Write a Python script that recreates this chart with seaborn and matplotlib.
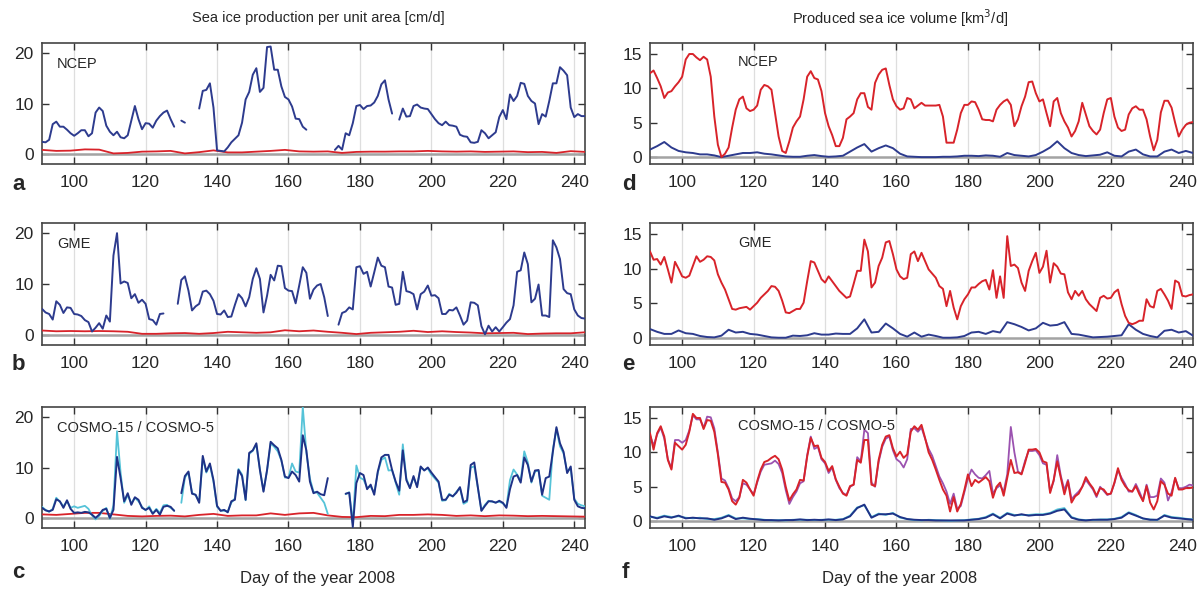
import numpy as np
import pandas as pd
import matplotlib
matplotlib.use('Agg')
import matplotlib.pyplot as plt
import seaborn as sns

nan = np.nan

# day axes: daily, every 2nd day, every 4th day
days = np.arange(91, 244)
days2 = np.arange(91, 244, 2)
days4 = np.arange(91, 244, 4)

# ---- sea ice production per unit area [cm/d] (left column) ----
ncep_rate = [2.4, 2.3, 2.8, 5.9, 6.4, 5.4, 5.4, 4.8, 4.1, 3.6,
             4.1, 4.7, 4.7, 3.5, 4.1, 8.2, 9.2, 8.5, 5.6, 4.4,
             3.7, 4.4, 3.3, 3.1, 3.7, 6.6, 9.5, 6.9, 4.9, 6.1,
             6.0, 5.2, 6.6, 7.5, 8.2, 8.6, 6.9, 5.4, nan, 6.6,
             6.2, nan, nan, nan, 9.0, 12.5, 12.7, 14.0, 9.2, 0.7,
             0.6, 0.5, 1.3, 2.3, 3.0, 3.7, 6.2, 10.8, 12.3, 15.7,
             17.0, 12.3, 13.1, 21.2, 21.3, 16.7, 16.7, 13.4, 11.3, 10.8,
             9.4, 7.0, 6.9, 5.4, 4.8, nan, nan, nan, nan, nan,
             nan, nan, 0.8, 1.6, 0.85, 4.1, 3.7, 6.1, 9.5, 9.7,
             8.9, 9.5, 9.6, 10.2, 11.5, 13.8, 14.6, 10.8, 8.0, nan,
             6.8, 9.0, 7.4, 7.5, 9.5, 9.8, 9.2, 9.0, 8.9, 7.9,
             6.9, 6.1, 5.7, 6.4, 5.7, 5.6, 5.4, 3.8, 3.5, 3.4,
             2.3, 2.2, 2.4, 4.7, 4.1, 3.1, 3.7, 4.3, 7.3, 8.7,
             6.9, 11.8, 10.5, 11.5, 14.1, 13.9, 11.5, 10.5, 10.0, 5.9,
             7.9, 7.4, 10.5, 14.0, 14.0, 17.2, 16.5, 15.6, 9.2, 7.3,
             7.9, 7.5, 7.5]
ncep_rate_red = [0.8, 0.6, 0.65, 0.9, 0.85, 0.1, 0.2, 0.45, 0.5, 0.6,
                 0.1, 0.35, 0.7, 0.3, 0.3, 0.45, 0.6, 0.8, 0.5, 0.45,
                 0.5, 0.2, 0.4, 0.45, 0.45, 0.5, 0.5, 0.6, 0.5, 0.45,
                 0.5, 0.4, 0.45, 0.5, 0.35, 0.4, 0.2, 0.55, 0.4]

gme_rate = [5.1, 4.4, 4.1, 3.0, 6.6, 5.9, 4.3, 5.4, 5.3, 4.1,
            4.0, 3.7, 2.9, 2.5, 0.65, 1.4, 2.3, 1.2, 3.8, 2.6,
            15.6, 20.0, 10.1, 10.5, 10.2, 7.2, 8.0, 6.3, 6.9, 6.1,
            3.1, 2.9, 2.0, 4.1, 4.2, nan, nan, nan, 6.1, 10.8,
            11.5, 8.7, 4.8, 5.6, 6.1, 8.5, 8.7, 8.0, 6.7, 4.1,
            4.0, 4.8, 3.5, 3.6, 5.9, 8.0, 7.2, 5.6, 7.4, 11.0,
            13.1, 11.0, 4.4, 7.7, 11.8, 10.7, 13.6, 13.5, 9.2, 8.7,
            8.6, 6.2, 9.7, 13.3, 12.2, 7.1, 8.9, 9.7, 10.0, 7.4,
            3.7, nan, nan, 2.0, 4.3, 4.6, 5.4, 5.0, 13.3, 13.5,
            12.0, 12.4, 9.5, 12.3, 15.2, 13.6, 13.3, 9.5, 9.3, 5.9,
            6.1, 12.4, 8.6, 8.4, 8.0, 5.0, 8.0, 8.5, 9.7, 7.7,
            7.8, 7.2, 4.1, 4.1, 4.9, 4.8, 5.4, 3.8, 2.0, 2.8,
            6.4, 6.3, 5.8, 1.7, 0.1, 1.8, 0.65, 1.5, 0.65, 1.5,
            2.4, 3.1, 5.8, 12.4, 12.7, 16.2, 13.9, 6.4, 7.1, 9.9,
            3.8, 3.8, 3.5, 18.6, 17.2, 14.9, 9.0, 8.2, 8.0, 5.0,
            3.8, 3.3, 3.2]
gme_rate_red = [0.85, 0.7, 0.75, 0.7, 0.75, 0.7, 0.6, 0.2, 0.2, 0.3,
                0.35, 0.2, 0.35, 0.6, 0.5, 0.4, 0.5, 0.9, 0.7, 0.85,
                0.6, 0.4, 0.15, 0.4, 0.5, 0.6, 0.8, 0.55, 0.7, 0.55,
                0.45, 0.3, 0.35, 0.4, 0.15, 0.25, 0.3, 0.3, 0.5]

cosmo5_rate = [2.0, 1.5, 1.3, 1.6, 3.7, 3.3, 2.0, 3.5, 1.8, 1.0,
               1.1, 1.0, 1.2, 1.1, 0.65, 0.0, 0.65, 1.6, 1.8, 0.0,
               1.6, 12.1, 7.9, 3.3, 4.9, 2.6, 4.1, 3.6, 2.0, 1.6,
               2.0, 0.8, 1.6, 0.65, 2.2, 2.4, 2.2, 1.4, nan, 4.9,
               8.3, 9.2, 4.8, 4.6, 3.0, 12.3, 9.2, 10.8, 7.5, 2.4,
               1.4, 1.6, 1.1, 3.3, 3.6, 9.5, 8.3, 3.6, 12.9, 13.4,
               14.8, 9.5, 5.2, 9.5, 15.1, 14.4, 13.8, 11.5, 8.2, 7.9,
               9.2, 8.5, 7.2, 16.4, 13.4, 7.2, 4.9, 5.2, 4.7, 4.5,
               7.9, nan, nan, nan, nan, 4.8, 5.0, -1.8, 6.9, 8.9,
               8.5, 5.7, 6.6, 4.6, 9.2, 12.0, 12.5, 12.5, 9.5, 7.2,
               5.4, 13.4, 7.5, 5.9, 8.3, 6.1, 10.2, 9.4, 10.0, 9.0,
               8.1, 7.2, 3.6, 3.6, 4.6, 4.3, 5.0, 6.1, 3.1, 3.5,
               10.5, 11.0, 6.1, 1.4, 2.4, 3.3, 3.3, 3.0, 3.4, 3.0,
               2.0, 5.7, 8.2, 8.5, 7.0, 12.0, 10.5, 7.2, 9.4, 9.5,
               4.6, 7.9, 8.2, 13.1, 18.0, 14.8, 13.1, 8.9, 10.2, 3.6,
               2.3, 2.0, 1.9]
cosmo15_rate = [2.2, 1.6, 1.2, 1.8, 4.0, 3.2, 2.3, 3.3, 2.0, 2.3,
                2.0, 2.2, 2.4, 1.8, 0.5, -0.3, 0.4, 1.4, 2.0, -0.2,
                2.5, 17.2, 9.0, 3.0, 4.5, 2.9, 4.0, 3.3, 2.2, 1.5,
                2.3, 0.9, 1.8, 1.0, 2.5, 2.6, 2.0, 1.5, nan, 3.0,
                8.0, 9.0, 5.0, 4.5, 3.2, 11.8, 9.0, 10.5, 7.2, 2.2,
                1.5, 1.4, 1.3, 3.0, 3.9, 9.7, 8.6, 3.5, 12.7, 13.3,
                14.5, 9.6, 5.4, 9.4, 14.8, 14.1, 13.2, 11.4, 8.0, 8.0,
                10.8, 9.2, 9.0, 22.0, 13.0, 7.8, 5.2, 5.0, 4.0, 3.0,
                0.8, nan, nan, nan, nan, 4.7, 5.1, -1.0, 10.4, 8.0,
                7.6, 6.0, 6.2, 5.0, 9.0, 11.5, 12.0, 9.4, 9.5, 7.0,
                4.6, 14.6, 7.8, 6.0, 8.0, 6.3, 10.0, 9.5, 9.8, 8.6,
                7.8, 7.0, 3.4, 3.5, 4.8, 4.2, 5.2, 6.0, 2.8, 3.2,
                10.0, 10.2, 6.0, 1.5, 2.6, 3.4, 3.2, 3.1, 3.2, 2.9,
                2.2, 7.5, 9.6, 8.6, 7.4, 13.2, 11.0, 7.0, 9.2, 9.4,
                4.4, 4.0, 3.6, 13.6, 17.6, 14.2, 12.8, 9.2, 9.8, 3.8,
                2.8, 2.5, 2.3]
cosmo_rate_red = [0.7, 0.6, 0.8, 1.0, 1.0, 0.7, 0.4, 0.3, 0.4, 0.45,
                  0.3, 0.6, 0.8, 0.4, 0.5, 0.5, 0.9, 0.6, 0.9, 1.0,
                  0.5, 0.2, 0.15, 0.4, 0.35, 0.6, 0.6, 0.7, 0.6, 0.4,
                  0.5, 0.35, 0.5, 0.45, 0.35, 0.4, 0.35, 0.3, 0.25]

# ---- produced sea ice volume [km3/d] (right column) ----
ncep_vol = [12.2, 12.6, 11.5, 10.3, 8.6, 9.4, 9.6, 10.3, 10.9, 11.7,
            14.2, 15.0, 15.0, 14.5, 14.1, 14.6, 14.2, 11.7, 5.9, 1.8,
            0.0, 0.5, 1.4, 4.3, 6.9, 8.4, 8.8, 7.1, 6.7, 6.9,
            7.5, 9.8, 10.5, 10.3, 9.8, 6.4, 3.0, 0.9, 0.6, 2.3,
            4.3, 5.2, 5.9, 8.4, 11.7, 12.5, 11.5, 11.3, 9.6, 6.4,
            4.5, 3.2, 1.6, 1.6, 2.8, 5.5, 5.9, 6.4, 8.4, 9.3,
            9.3, 7.3, 6.9, 10.8, 12.0, 12.7, 12.9, 10.5, 8.4, 7.4,
            6.9, 7.1, 8.6, 8.4, 7.1, 7.5, 7.9, 7.5, 7.5, 7.5,
            7.5, 7.6, 5.9, 2.1, 2.1, 2.1, 4.0, 6.4, 7.6, 7.6,
            8.1, 8.0, 6.9, 5.5, 5.4, 5.4, 5.2, 6.9, 7.6, 8.1,
            8.4, 7.6, 4.5, 5.5, 7.4, 8.8, 10.9, 11.0, 9.3, 8.1,
            8.4, 6.4, 4.5, 8.1, 8.6, 6.4, 5.2, 4.3, 3.0, 3.8,
            5.2, 7.9, 6.2, 4.5, 3.8, 3.3, 4.0, 6.4, 8.4, 8.6,
            5.9, 4.3, 3.8, 4.0, 6.2, 7.1, 7.4, 6.9, 6.9, 5.5,
            3.0, 1.0, 2.5, 6.5, 8.2, 8.2, 7.2, 5.0, 3.0, 4.0,
            4.7, 5.0, 5.1]
ncep_vol_blue = [1.1, 1.6, 2.2, 1.4, 0.9, 0.7, 0.6, 0.4, 0.4, 0.25,
                 0.0, 0.2, 0.4, 0.6, 0.6, 0.7, 0.5, 0.4, 0.25, 0.1,
                 0.05, 0.05, 0.2, 0.3, 0.15, 0.05, 0.1, 0.2, 0.8, 1.4,
                 1.9, 0.8, 1.3, 1.7, 1.3, 0.5, 0.1, 0.05, 0.0, 0.0,
                 0.0, 0.05, 0.05, 0.1, 0.2, 0.2, 0.15, 0.25, 0.2, 0.05,
                 0.6, 0.3, 0.2, 0.1, 0.3, 0.8, 1.4, 2.3, 1.3, 0.6,
                 0.3, 0.15, 0.25, 0.35, 0.7, 0.2, 0.1, 0.8, 1.1, 0.4,
                 0.1, 0.1, 0.8, 1.1, 0.6, 0.9, 0.6]

gme_vol = [12.5, 11.3, 11.4, 10.6, 11.7, 9.9, 8.0, 11.0, 10.0, 8.9,
           8.7, 9.0, 10.4, 11.8, 11.0, 11.3, 11.8, 11.7, 11.2, 9.2,
           8.0, 7.0, 5.6, 4.2, 4.1, 4.3, 4.4, 4.5, 4.1, 4.6,
           5.1, 5.8, 6.3, 6.8, 7.5, 7.4, 6.8, 5.4, 3.7, 3.6,
           3.9, 4.2, 4.2, 5.1, 8.2, 11.1, 10.9, 9.7, 8.5, 8.0,
           8.9, 8.2, 7.5, 6.8, 6.3, 5.8, 6.0, 7.8, 9.7, 9.7,
           14.2, 12.5, 7.3, 8.0, 10.4, 11.6, 13.8, 14.0, 12.1, 9.9,
           8.9, 8.5, 8.7, 12.1, 12.5, 11.1, 12.3, 11.1, 9.9, 9.3,
           8.7, 7.5, 7.1, 4.6, 6.8, 4.4, 2.7, 4.6, 5.6, 6.3,
           7.3, 7.3, 7.8, 8.2, 8.4, 7.0, 9.8, 5.8, 8.9, 5.8,
           14.7, 10.4, 10.6, 10.1, 8.0, 6.8, 9.7, 11.1, 12.3, 9.4,
           10.3, 12.6, 8.0, 10.8, 10.3, 9.3, 9.2, 6.6, 5.6, 6.8,
           6.1, 6.8, 5.6, 4.9, 4.4, 3.9, 5.8, 6.1, 5.7, 5.8,
           6.6, 7.0, 4.9, 3.2, 2.2, 2.0, 2.2, 2.5, 2.5, 5.6,
           4.6, 4.4, 6.8, 7.1, 6.3, 5.4, 4.2, 8.3, 8.0, 6.1,
           6.0, 6.2, 6.3]
gme_vol_blue = [1.3, 0.9, 0.6, 0.6, 1.1, 0.7, 0.6, 0.3, 0.15, 0.1,
                0.35, 1.2, 0.8, 0.9, 0.6, 0.5, 0.3, 0.1, 0.05, 0.05,
                0.35, 0.3, 0.4, 0.7, 0.5, 0.5, 0.65, 0.6, 0.6, 1.4,
                2.7, 0.8, 0.9, 2.1, 1.4, 0.6, 0.2, 0.8, 0.2, 0.5,
                0.3, 0.05, 0.05, 0.1, 0.3, 0.8, 0.9, 0.6, 1.0, 0.8,
                2.3, 2.0, 1.6, 1.1, 1.4, 2.2, 1.8, 1.9, 2.3, 0.6,
                0.5, 0.3, 0.1, 0.15, 0.2, 0.3, 0.4, 2.0, 1.2, 0.6,
                0.3, 0.1, 1.05, 1.2, 0.8, 1.0, 0.35]

cosmo5_vol = [12.8, 10.4, 12.8, 13.8, 12.3, 8.9, 7.5, 11.4, 10.9, 10.4,
              11.1, 13.0, 15.6, 15.0, 15.0, 13.4, 14.7, 14.6, 13.0, 9.7,
              5.7, 5.6, 4.6, 2.9, 2.4, 3.4, 6.0, 5.6, 4.6, 3.7,
              5.8, 7.5, 8.6, 8.8, 9.2, 9.5, 9.0, 7.5, 5.0, 3.0,
              3.9, 4.6, 6.0, 5.9, 9.4, 12.1, 10.9, 11.0, 9.2, 8.6,
              7.3, 8.0, 6.1, 5.0, 4.0, 3.7, 5.1, 5.3, 8.9, 8.5,
              11.8, 11.8, 5.3, 5.1, 8.9, 11.1, 12.3, 12.5, 10.6, 9.4,
              10.1, 9.2, 9.7, 13.0, 13.8, 13.3, 14.0, 12.1, 10.0, 8.9,
              7.5, 6.0, 4.6, 3.7, 1.4, 3.5, 1.4, 2.5, 4.5, 6.8,
              5.1, 6.0, 5.6, 6.0, 6.4, 5.8, 3.4, 5.0, 5.6, 3.7,
              6.3, 8.9, 7.0, 7.1, 6.8, 8.5, 10.4, 10.4, 10.5, 10.0,
              8.7, 8.5, 4.1, 6.0, 8.7, 6.3, 3.9, 5.8, 2.7, 3.6,
              4.0, 5.0, 6.4, 5.5, 4.8, 3.7, 4.8, 4.6, 3.9, 4.0,
              5.6, 7.7, 6.0, 5.1, 4.5, 4.3, 5.1, 3.9, 2.9, 5.1,
              2.7, 1.7, 2.9, 5.8, 5.3, 4.0, 3.7, 6.3, 4.6, 4.6,
              4.8, 4.8, 4.9]
cosmo15_vol = [12.5, 11.0, 12.6, 13.6, 12.0, 9.0, 7.7, 11.8, 11.8, 11.4,
               11.8, 13.2, 15.4, 14.8, 14.8, 13.6, 15.2, 15.1, 13.5, 10.0,
               6.2, 5.9, 4.8, 3.3, 2.9, 3.5, 5.5, 5.3, 4.6, 3.9,
               5.6, 7.2, 8.2, 8.3, 8.4, 8.8, 8.3, 7.0, 4.5, 2.5,
               3.5, 4.3, 5.5, 5.8, 9.6, 12.3, 10.5, 10.8, 9.0, 8.4,
               7.0, 7.8, 6.0, 4.8, 4.1, 3.8, 5.0, 5.3, 9.3, 8.7,
               13.3, 12.8, 5.6, 5.0, 8.6, 10.8, 12.0, 12.3, 10.3, 9.0,
               8.6, 7.8, 9.0, 13.4, 13.5, 13.0, 13.6, 12.0, 10.5, 9.5,
               8.0, 6.5, 5.5, 4.3, 2.5, 4.0, 1.8, 2.2, 4.2, 6.2,
               7.5, 6.8, 6.3, 6.2, 6.7, 7.3, 4.0, 4.8, 5.2, 4.3,
               6.8, 13.7, 10.0, 7.2, 6.9, 8.8, 10.2, 10.2, 10.3, 9.6,
               8.4, 8.2, 4.3, 5.8, 9.6, 6.6, 4.5, 6.0, 3.2, 3.8,
               4.3, 5.0, 6.0, 5.3, 4.6, 3.5, 5.0, 4.4, 3.8, 4.0,
               5.5, 7.4, 6.3, 5.4, 4.3, 4.3, 5.4, 4.3, 3.0, 5.3,
               3.5, 3.5, 3.7, 6.2, 5.6, 3.0, 4.2, 6.2, 4.8, 4.8,
               5.0, 5.3, 5.2]
cosmo5_vol_blue = [0.7, 0.4, 0.7, 0.5, 0.8, 0.4, 0.5, 0.4, 0.4, 0.2,
                   0.4, 0.8, 0.3, 0.5, 0.35, 0.25, 0.15, 0.15, 0.1, 0.15,
                   0.15, 0.25, 0.15, 0.2, 0.15, 0.25, 0.15, 0.25, 0.7, 1.9,
                   2.4, 0.5, 1.0, 1.0, 1.1, 0.6, 0.3, 0.2, 0.15, 0.15,
                   0.1, 0.1, 0.1, 0.1, 0.1, 0.2, 0.3, 0.5, 1.0, 0.4,
                   1.1, 0.8, 1.0, 0.8, 0.9, 0.9, 1.1, 1.5, 1.7, 0.5,
                   0.2, 0.1, 0.2, 0.2, 0.2, 0.3, 0.5, 1.2, 0.8, 0.4,
                   0.2, 0.2, 0.8, 0.5, 0.4, 0.3, 0.2]
cosmo15_vol_blue = [0.6, 0.5, 0.8, 0.6, 0.7, 0.5, 0.4, 0.5, 0.3, 0.3,
                    0.5, 0.9, 0.4, 0.4, 0.3, 0.3, 0.2, 0.1, 0.15, 0.1,
                    0.2, 0.2, 0.2, 0.15, 0.2, 0.2, 0.2, 0.3, 0.8, 2.0,
                    2.3, 0.6, 1.1, 0.9, 1.2, 0.5, 0.3, 0.15, 0.1, 0.2,
                    0.15, 0.1, 0.05, 0.1, 0.15, 0.25, 0.35, 0.6, 1.1, 0.5,
                    1.2, 0.9, 0.9, 0.9, 1.0, 1.0, 1.2, 1.7, 1.9, 0.6,
                    0.25, 0.15, 0.15, 0.25, 0.25, 0.35, 0.6, 1.3, 0.9, 0.35,
                    0.25, 0.15, 0.9, 0.6, 0.5, 0.35, 0.25]

BLUE = '#2d3b8e'
DARKBLUE = '#1f3287'
RED = '#d8232a'
CYAN = '#55c3d8'
PURPLE = '#9b52b0'

sns.set_style('ticks')
plt.rcParams['font.family'] = ['Liberation Sans', 'DejaVu Sans']

fig = plt.figure(figsize=(12.03, 5.89), dpi=100)
W, H = 1203, 589


def make_axes(left, top, bottom):
    return fig.add_axes([left / W, 1 - bottom / H, 543 / W, (bottom - top) / H])


def draw(ax, x, y, color, lw=1.4, z=3):
    df = pd.DataFrame({'day': x, 'val': y})
    df['seg'] = df['val'].isna().cumsum()
    df = df.dropna()
    sns.lineplot(data=df, x='day', y='val', units='seg', estimator=None,
                 color=color, lw=lw, ax=ax, zorder=z)


def style(ax, ylim, yticks):
    ax.set_xlim(91, 243)
    ax.set_ylim(*ylim)
    ax.set_xticks(range(100, 241, 20))
    ax.set_yticks(yticks)
    ax.grid(axis='x', color='#dedede', lw=0.9)
    ax.axhline(0, color='#a3a3a3', lw=1.8, zorder=1)
    ax.tick_params(direction='in', top=True, right=True, length=5, width=1,
                   color='#333333', labelsize=12.5, pad=6)
    ax.tick_params(axis='x', pad=8)
    for s in ax.spines.values():
        s.set_color('#444444')
        s.set_linewidth(1.2)
    ax.set_xlabel('')
    ax.set_ylabel('')


rows = [(43, 164), (223, 345), (407, 528)]
lefts = [42, 650]

ax_a = make_axes(lefts[0], *rows[0])
ax_b = make_axes(lefts[0], *rows[1])
ax_c = make_axes(lefts[0], *rows[2])
ax_d = make_axes(lefts[1], *rows[0])
ax_e = make_axes(lefts[1], *rows[1])
ax_f = make_axes(lefts[1], *rows[2])

# left column
draw(ax_a, days4, ncep_rate_red, RED, lw=1.3)
draw(ax_a, days, ncep_rate, BLUE)
draw(ax_b, days4, gme_rate_red, RED, lw=1.3)
draw(ax_b, days, gme_rate, BLUE)
draw(ax_c, days4, cosmo_rate_red, RED, lw=1.3)
draw(ax_c, days, cosmo15_rate, CYAN, lw=1.3)
draw(ax_c, days, cosmo5_rate, DARKBLUE)

# right column
draw(ax_d, days2, ncep_vol_blue, BLUE)
draw(ax_d, days, ncep_vol, RED)
draw(ax_e, days2, gme_vol_blue, BLUE)
draw(ax_e, days, gme_vol, RED)
draw(ax_f, days2, cosmo15_vol_blue, CYAN, lw=1.3)
draw(ax_f, days2, cosmo5_vol_blue, DARKBLUE)
draw(ax_f, days, cosmo15_vol, PURPLE, lw=1.3)
draw(ax_f, days, cosmo5_vol, RED)

for ax in (ax_a, ax_b, ax_c):
    style(ax, (-2, 22), [0, 10, 20])
for ax in (ax_d, ax_e, ax_f):
    style(ax, (-1, 16.6), [0, 5, 10, 15])

names = ['NCEP', 'GME', 'COSMO-15 / COSMO-5']
for ax, name in zip((ax_a, ax_b, ax_c), names):
    ax.text(0.028, 0.83, name, transform=ax.transAxes, fontsize=10.5, va='center')
for ax, name in zip((ax_d, ax_e, ax_f), names):
    ax.text(0.162, 0.84, name, transform=ax.transAxes, fontsize=10.5, va='center')

# panel letters
for letter, x, y in [('a', 12, 184), ('b', 12, 364), ('c', 12, 573),
                     ('d', 622, 184), ('e', 622, 364), ('f', 622, 573)]:
    fig.text(x / W, 1 - y / H, letter, fontsize=16, fontweight='bold', va='center')

fig.text(318 / W, 1 - 18 / H, 'Sea ice production per unit area [cm/d]',
         fontsize=10.5, ha='center', va='center')
fig.text(900 / W, 1 - 18 / H, 'Produced sea ice volume [km$^3$/d]',
         fontsize=10.5, ha='center', va='center')
fig.text(318 / W, 1 - 578 / H, 'Day of the year 2008', fontsize=12, ha='center', va='center')
fig.text(900 / W, 1 - 578 / H, 'Day of the year 2008', fontsize=12, ha='center', va='center')

fig.savefig('out.png', dpi=100)
